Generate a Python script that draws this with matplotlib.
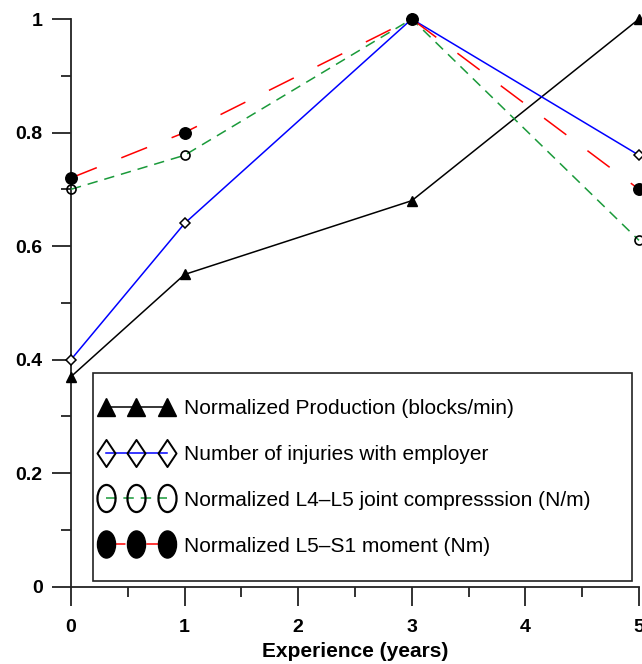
import numpy as np
import matplotlib
matplotlib.use("Agg")
import matplotlib.pyplot as plt
from matplotlib.lines import Line2D
from matplotlib.path import Path
from matplotlib.patches import Rectangle
from matplotlib.ticker import MultipleLocator, FixedLocator

plt.rcParams['font.family'] = ['Liberation Sans', 'DejaVu Sans']
plt.rcParams['lines.scale_dashes'] = False

# ---- data ----
experience = [0, 1, 3, 5]
production = [0.37, 0.55, 0.68, 1.0]
injuries = [0.40, 0.64, 1.0, 0.76]
l4l5 = [0.70, 0.76, 1.0, 0.61]
l5s1 = [0.72, 0.80, 1.0, 0.70]

labels = ["Normalized Production (blocks/min)",
          "Number of injuries with employer",
          "Normalized L4\u2013L5 joint compresssion (N/m)",
          "Normalized L5\u2013S1 moment (Nm)"]
x_ticks = [0, 1, 2, 3, 4, 5]
y_ticks = [0, 0.2, 0.4, 0.6, 0.8, 1]
y_tick_labels = ["0", "0.2", "0.4", "0.6", "0.8", "1"]

fig = plt.figure(figsize=(6.42, 6.64), dpi=100)
ax = fig.add_axes([71/642, 1-586.7/664, 568/642, 567.7/664])

red_ls = (0, (20, 19))
green_ls = (0, (7.5, 5))
lw = 1.1

ax.plot(experience, production, color='black', lw=lw, marker='^', ms=6.5,
        mfc='black', mec='black', clip_on=False, zorder=3)
ax.plot(experience, injuries, color='blue', lw=lw, marker='D', ms=5.5,
        mfc='white', mec='black', mew=1.1, clip_on=False, zorder=3)
ax.plot(experience, l4l5, color='#1a9a3a', lw=lw, ls=green_ls, marker='o', ms=6.5,
        mfc='none', mec='black', mew=1.2, clip_on=False, zorder=3)
ax.plot(experience, l5s1, color='red', lw=lw, ls=red_ls, marker='o', ms=8.3,
        mfc='black', mec='black', clip_on=False, zorder=4)

ax.set_xlim(0, 5)
ax.set_ylim(0, 1)
for s in ['top', 'right']:
    ax.spines[s].set_visible(False)
for s in ['left', 'bottom']:
    ax.spines[s].set_linewidth(1.3)
    ax.spines[s].set_color('#222222')

ax.xaxis.set_major_locator(FixedLocator(x_ticks))
ax.xaxis.set_minor_locator(MultipleLocator(0.5))
ax.yaxis.set_major_locator(FixedLocator(y_ticks))
ax.set_yticklabels(y_tick_labels)
ax.yaxis.set_minor_locator(MultipleLocator(0.1))
ax.tick_params(axis='both', which='major', direction='out', length=13.5, width=1.3,
               color='#222222', labelsize=14)
ax.tick_params(axis='both', which='minor', direction='out', length=7, width=1.3,
               color='#222222')
ax.tick_params(axis='x', which='major', pad=10)
ax.tick_params(axis='y', which='major', pad=7)
for t in ax.get_xticklabels() + ax.get_yticklabels():
    t.set_fontweight('bold')
ax.set_xlabel("Experience (years)", fontsize=15, fontweight='bold', labelpad=4)

# legend markers (vertically stretched)
circ = Path.unit_circle()
ellipse = Path(circ.vertices * np.array([1.0, 1.5]), circ.codes)
diamond = Path([(0, 1.5), (1, 0), (0, -1.5), (-1, 0), (0, 1.5)],
               [Path.MOVETO, Path.LINETO, Path.LINETO, Path.LINETO, Path.CLOSEPOLY])

handles = [
    Line2D([], [], color='black', lw=lw, marker='^', ms=12.5, mfc='black', mec='black'),
    Line2D([], [], color='blue', lw=lw, marker=diamond, ms=19.5, mfc='none', mec='black', mew=1.4),
    Line2D([], [], color='#1a9a3a', lw=lw, ls=(0, (7.5, 5)), marker=ellipse, ms=19.5,
           mfc='none', mec='black', mew=1.6),
    Line2D([], [], color='red', lw=lw, ls=(0, (14, 15)), marker=ellipse, ms=19.5,
           mfc='black', mec='black'),
]

# legend frame
frame = Rectangle(((93.3-71)/568, (586.7-580.7)/567.7), (632-93.3)/568, (580.7-373)/567.7,
                  transform=ax.transAxes, fill=True, facecolor='white',
                  edgecolor='#222222', lw=1.2, zorder=5)
ax.add_patch(frame)

leg = ax.legend(handles, labels, loc='upper left',
                bbox_to_anchor=((100-71)/568, (586.7-399)/567.7),
                frameon=False, fontsize=15, numpoints=3, handlelength=3.5,
                handletextpad=0.55, labelspacing=1.29, borderpad=0, borderaxespad=0)
leg.set_zorder(6)

fig.savefig("out.png", dpi=100)
